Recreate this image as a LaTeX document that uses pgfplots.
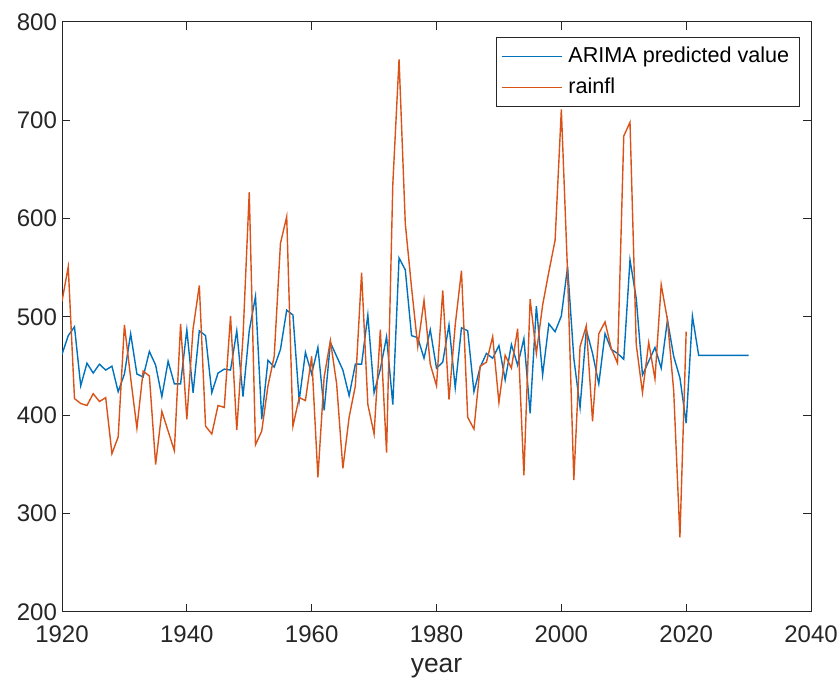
\documentclass[border=0pt]{standalone}
\usepackage{fontspec}
\setmainfont{Liberation Sans}
\usepackage{pgfplots}
\usepackage{pgfplotstable}
\pgfplotsset{compat=1.18}
\definecolor{mblue}{HTML}{0072BD}
\definecolor{mred}{HTML}{D95319}
\definecolor{axgray}{HTML}{262626}

% ARIMA fit and forecast
\pgfplotstableread{
year pred
1920 462
1921 481
1922 490
1923 430
1924 453
1925 443
1926 452
1927 446
1928 450
1929 424
1930 442
1931 483
1932 442
1933 439
1934 465
1935 451
1936 419
1937 455
1938 432
1939 432
1940 487
1941 423
1942 486
1943 481
1944 423
1945 443
1946 447
1947 446
1948 486
1949 419
1950 486
1951 521
1952 396
1953 456
1954 449
1955 467
1956 507
1957 502
1958 415
1959 464
1960 442
1961 469
1962 405
1963 474
1964 460
1965 446
1966 420
1967 452
1968 452
1969 502
1970 423
1971 447
1972 480
1973 411
1974 560
1975 548
1976 481
1977 479
1978 458
1979 487
1980 448
1981 454
1982 492
1983 428
1984 489
1985 486
1986 424
1987 449
1988 463
1989 458
1990 471
1991 436
1992 472
1993 451
1994 478
1995 402
1996 511
1997 441
1998 493
1999 485
2000 501
2001 551
2002 458
2003 408
2004 487
2005 463
2006 432
2007 483
2008 467
2009 463
2010 457
2011 558
2012 519
2013 441
2014 455
2015 469
2016 448
2017 497
2018 460
2019 438
2020 392
2021 501
2022 461
2023 461
2024 461
2025 461
2026 461
2027 461
2028 461
2029 461
2030 461
}\arima

% observed rainfall
\pgfplotstableread{
year rain
1920 516
1921 551
1922 417
1923 412
1924 410
1925 422
1926 414
1927 418
1928 361
1929 378
1930 492
1931 438
1932 387
1933 445
1934 440
1935 350
1936 404
1937 384
1938 364
1939 493
1940 396
1941 488
1942 532
1943 389
1944 381
1945 410
1946 408
1947 501
1948 385
1949 480
1950 627
1951 370
1952 384
1953 430
1954 460
1955 575
1956 602
1957 389
1958 418
1959 415
1960 460
1961 337
1962 439
1963 476
1964 432
1965 346
1966 398
1967 430
1968 545
1969 411
1970 381
1971 487
1972 362
1973 635
1974 762
1975 595
1976 530
1977 470
1978 517
1979 452
1980 430
1981 527
1982 416
1983 492
1984 547
1985 398
1986 386
1987 450
1988 454
1989 480
1990 413
1991 461
1992 448
1993 488
1994 339
1995 518
1996 463
1997 512
1998 546
1999 578
2000 711
2001 545
2002 334
2003 470
2004 491
2005 394
2006 483
2007 495
2008 468
2009 453
2010 684
2011 698
2012 472
2013 423
2014 474
2015 437
2016 533
2017 497
2018 425
2019 276
2020 485
}\rainfall

\begin{document}
\begin{tikzpicture}
\begin{axis}[
  name=ax,
  width=374.5pt, height=295pt, scale only axis,
  xmin=1920, xmax=2040, ymin=200, ymax=800,
  xtick={1920,1940,...,2040}, ytick={200,300,...,800},
  tick align=inside, major tick length=4pt,
  axis line style={axgray, line width=0.5pt},
  every tick/.style={axgray, line width=0.5pt},
  /pgf/number format/assume math mode=true,
  /pgf/number format/set thousands separator={},
  ticklabel style={font=\fontsize{12}{14}\selectfont, text=axgray},
  xticklabel style={yshift=-3.5pt},
  yticklabel style={xshift=1pt},
  xlabel={year},
  xlabel style={font=\fontsize{13.2}{15}\selectfont, text=axgray, yshift=-1pt},
  legend cell align=left,
  legend style={at={(rel axis cs:0.985,0.975)}, anchor=north east,
    draw=axgray, line width=0.5pt, font=\fontsize{10.8}{13}\selectfont,
    inner xsep=2pt, inner ysep=3pt, row sep=2pt,
    nodes={inner xsep=3pt}},
  legend image code/.code={\draw[#1, line width=0.7pt] (0pt,0pt) -- (30pt,0pt);},
]
\addplot[mblue, line width=0.7pt] table[x=year, y=pred] {\arima};
\addlegendentry{ARIMA predicted value}
\addplot[mred, line width=0.7pt] table[x=year, y=rain] {\rainfall};
\addlegendentry{rainfl}
\end{axis}
\pgfresetboundingbox
\useasboundingbox ([xshift=-31pt, yshift=-36pt]ax.south west) rectangle ([xshift=14pt, yshift=11pt]ax.north east);
\end{tikzpicture}
\end{document}
